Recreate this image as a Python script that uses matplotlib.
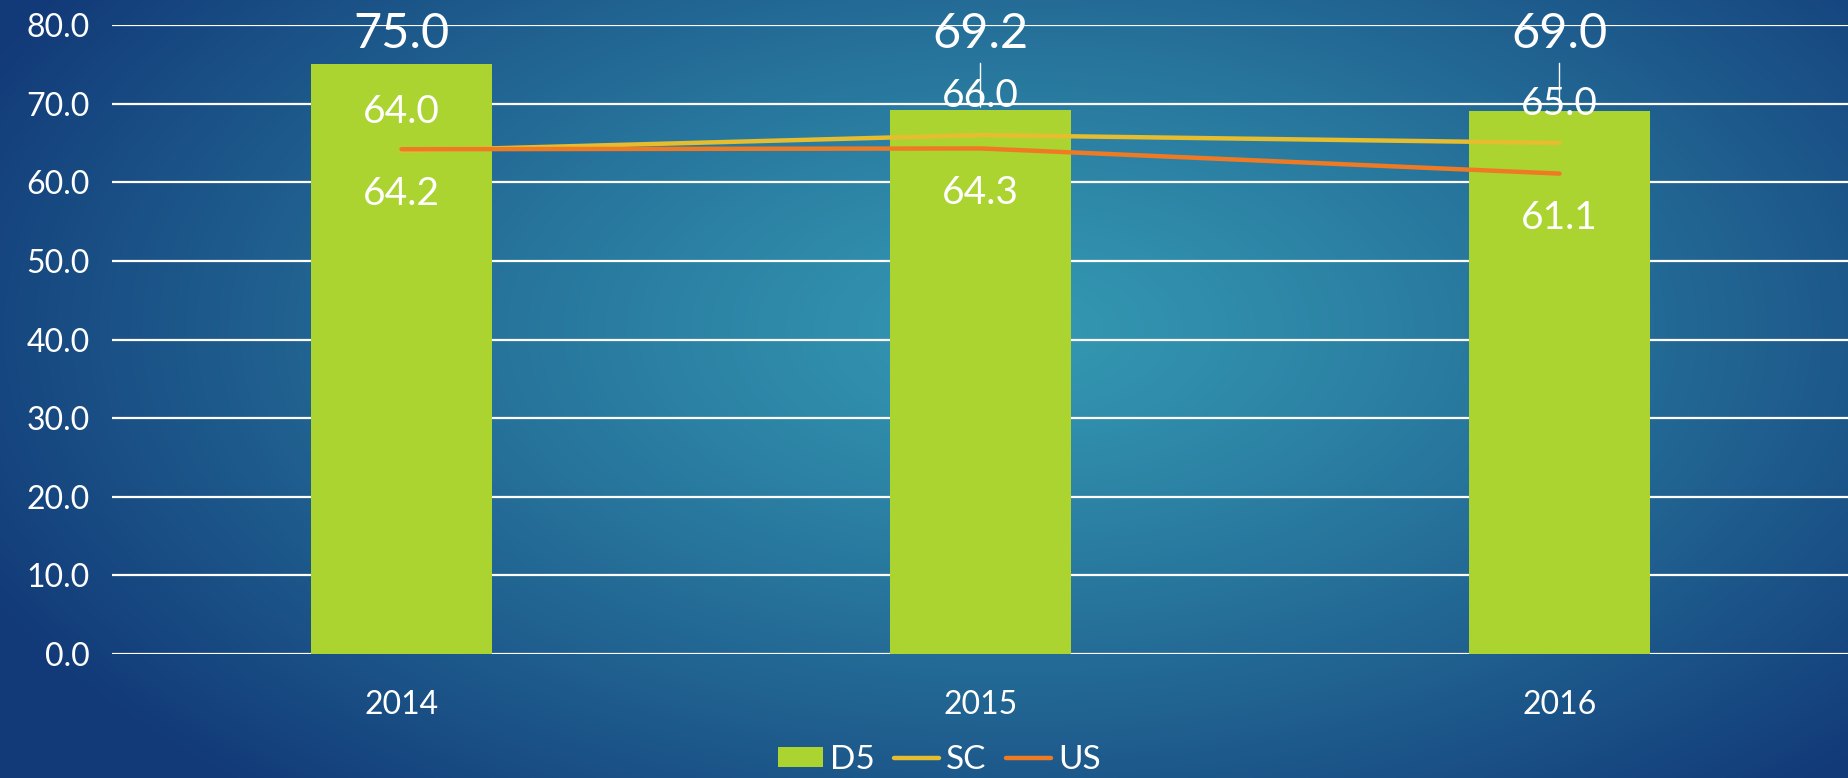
import matplotlib
matplotlib.use("Agg")
import matplotlib.pyplot as plt
import numpy as np

# data
years = ["2014", "2015", "2016"]
d5 = [75.0, 69.2, 69.0]
sc = [64.0, 66.0, 65.0]
us = [64.2, 64.3, 61.1]
yticks = [0, 10, 20, 30, 40, 50, 60, 70, 80]

plt.rcParams["font.family"] = ["Lato", "DejaVu Sans"]

W, H, DPI = 1849, 778, 100
fig = plt.figure(figsize=(W / DPI, H / DPI), dpi=DPI)

# radial blue background
bg = fig.add_axes([0, 0, 1, 1], zorder=-10)
yy, xx = np.mgrid[0:H, 0:W]
r = np.sqrt(((xx - 1020) / 1150.0) ** 2 + ((yy - 330) / 620.0) ** 2)
t = np.clip(r, 0, 1) ** 1.2
c0 = np.array([52, 152, 178]) / 255.0
c1 = np.array([18, 58, 120]) / 255.0
img = c0[None, None, :] * (1 - t[..., None]) + c1[None, None, :] * t[..., None]
bg.imshow(img, aspect="auto", interpolation="bilinear")
bg.axis("off")

ax = fig.add_axes([112 / W, (H - 654) / H, 1 - 112 / W, (654 - 25) / H])
ax.patch.set_alpha(0)
x = np.arange(len(years))

bars = ax.bar(x, d5, width=0.314, color="#acd431", zorder=2, label="D5")
l_sc, = ax.plot(x, sc, color="#e6bd2f", lw=3.2, solid_capstyle="round", zorder=3, label="SC")
l_us, = ax.plot(x, us, color="#ee7b24", lw=3.2, solid_capstyle="round", zorder=4, label="US")

ax.set_xlim(-0.5, 2.5)
ax.set_ylim(0, 80)
ax.set_yticks(yticks)
ax.set_yticklabels([f"{v:.1f}" for v in yticks])
ax.set_xticks(x)
ax.set_xticklabels(years)
ax.yaxis.grid(True, color="white", lw=1.6, zorder=1)
ax.set_axisbelow(True)
for s in ax.spines.values():
    s.set_visible(False)
ax.tick_params(length=0, colors="white", labelsize=23)
ax.tick_params(axis="x", pad=26)
ax.tick_params(axis="y", pad=16)
for lab in ax.get_xticklabels() + ax.get_yticklabels():
    lab.set_color("white")

# bar value labels at the top, with leader lines when far from the bar
for xi, v in zip(x, d5):
    arrow = dict(arrowstyle="-", color="white", lw=1, shrinkA=3, shrinkB=2) if v < 72 else None
    ax.annotate(f"{v:.1f}", xy=(xi, v), xytext=(xi, 78.8), textcoords="data",
                ha="center", va="center", color="white", fontsize=35,
                arrowprops=arrow, zorder=6)

for xi, v in zip(x, sc):
    ax.annotate(f"{v:.1f}", xy=(xi, v), xytext=(0, 28), textcoords="offset points",
                ha="center", va="center", color="white", fontsize=28, zorder=6)
for xi, v in zip(x, us):
    ax.annotate(f"{v:.1f}", xy=(xi, v), xytext=(0, -32), textcoords="offset points",
                ha="center", va="center", color="white", fontsize=28, zorder=6)

leg = fig.legend([bars, l_sc, l_us], ["D5", "SC", "US"], loc="lower center",
                 bbox_to_anchor=(0.508, -0.035), ncol=3, frameon=False,
                 fontsize=24, handlelength=1.35, handleheight=0.55, handletextpad=0.2,
                 columnspacing=0.6)
for txt in leg.get_texts():
    txt.set_color("white")

fig.savefig("out.png", dpi=DPI)
